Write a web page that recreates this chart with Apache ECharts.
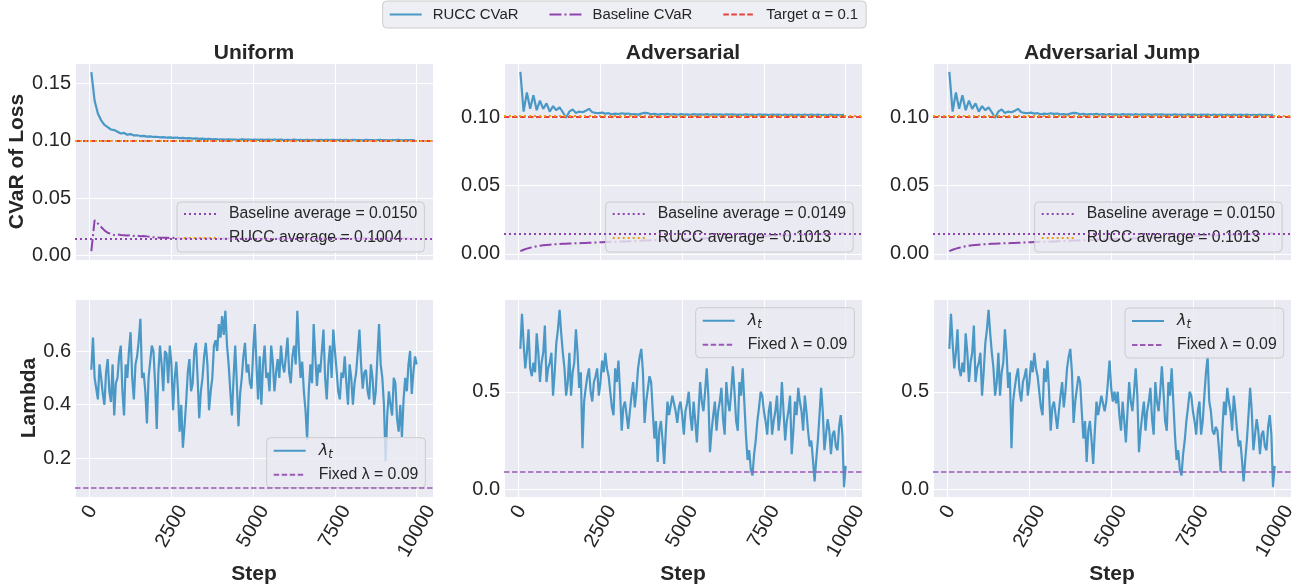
<!DOCTYPE html>
<html><head><meta charset="utf-8">
<script src="https://cdn.jsdelivr.net/npm/echarts@6/dist/echarts.min.js"></script>
<style>html,body{margin:0;padding:0;background:#fff}#c{width:1304px;height:586px}</style>
</head><body><div id="c"></div>
<script>
// ---------------- DATA ----------------
const titles = ['Uniform', 'Adversarial', 'Adversarial Jump'];
const stepsCvar = [50,150,250,350,450,550,650,750,850,950,1050,1150,1250,1350,1450,1550,1650,1750,1850,1950,
2050,2150,2250,2350,2450,2550,2650,2750,2850,2950,3050,3150,3250,3350,3450,3550,3650,3750,3850,3950,
4050,4150,4250,4350,4450,4550,4650,4750,4850,4950,5050,5150,5250,5350,5450,5550,5650,5750,5850,5950,
6050,6150,6250,6350,6450,6550,6650,6750,6850,6950,7050,7150,7250,7350,7450,7550,7650,7750,7850,7950,
8050,8150,8250,8350,8450,8550,8650,8750,8850,8950,9050,9150,9250,9350,9450,9550,9650,9750,9850,9950];

const stepsLambda = [50,100,150,200,250,300,350,400,450,500,550,600,650,700,750,800,850,900,950,1000,
1050,1100,1150,1200,1250,1300,1350,1400,1450,1500,1550,1600,1650,1700,1750,1800,1850,1900,1950,2000,
2050,2100,2150,2200,2250,2300,2350,2400,2450,2500,2550,2600,2650,2700,2750,2800,2850,2900,2950,3000,
3050,3100,3150,3200,3250,3300,3350,3400,3450,3500,3550,3600,3650,3700,3750,3800,3850,3900,3950,4000,
4050,4100,4150,4200,4250,4300,4350,4400,4450,4500,4550,4600,4650,4700,4750,4800,4850,4900,4950,5000,
5050,5100,5150,5200,5250,5300,5350,5400,5450,5500,5550,5600,5650,5700,5750,5800,5850,5900,5950,6000,
6050,6100,6150,6200,6250,6300,6350,6400,6450,6500,6550,6600,6650,6700,6750,6800,6850,6900,6950,7000,
7050,7100,7150,7200,7250,7300,7350,7400,7450,7500,7550,7600,7650,7700,7750,7800,7850,7900,7950,8000,
8050,8100,8150,8200,8250,8300,8350,8400,8450,8500,8550,8600,8650,8700,8750,8800,8850,8900,8950,9000,
9050,9100,9150,9200,9250,9300,9350,9400,9450,9500,9550,9600,9650,9700,9750,9800,9850,9900,9950,10000];

const cvarUniform = [0.160,0.135,0.124,0.118,0.114,0.112,0.110,0.1095,0.108,0.1065,
0.107,0.1055,0.106,0.1048,0.105,0.1043,0.1045,0.1038,0.104,0.1035,
0.1037,0.1032,0.1033,0.103,0.1032,0.1027,0.103,0.1025,0.1027,0.1022,
0.1025,0.102,0.1022,0.1018,0.102,0.1016,0.1018,0.1014,0.1016,0.1013,
0.1015,0.1012,0.1014,0.1011,0.1013,0.101,0.1014,0.1011,0.1012,0.101,
0.1013,0.1009,0.1012,0.101,0.1011,0.1009,0.1012,0.1009,0.1011,0.1008,
0.101,0.1008,0.1011,0.1008,0.101,0.1007,0.101,0.1008,0.1009,0.1007,
0.101,0.1007,0.1009,0.1008,0.101,0.1007,0.1009,0.1007,0.1009,0.1006,
0.1009,0.1007,0.1008,0.1006,0.1009,0.1007,0.1008,0.1006,0.1009,0.1007,
0.1008,0.1006,0.1008,0.1007,0.1009,0.1006,0.1008,0.1007,0.1008,0.1006];

const baseUniform = [0.004,0.031,0.028,0.025,0.022,0.020,0.019,0.018,0.0185,0.018,
0.0178,0.0175,0.0178,0.0172,0.0175,0.017,0.0172,0.0168,0.0165,0.016,
0.0158,0.0156,0.0155,0.0156,0.0154,0.0155,0.0153,0.0154,0.0152,0.0153,
0.0152,0.0151,0.0152,0.0151,0.0151,0.015,0.0151,0.015,0.0151,0.015,
0.015,0.0151,0.015,0.0149,0.015,0.0151,0.015,0.015,0.0149,0.015,
0.015,0.0151,0.015,0.0149,0.015,0.0151,0.015,0.015,0.0149,0.015,
0.015,0.0151,0.015,0.0149,0.015,0.0151,0.015,0.015,0.0149,0.015,
0.015,0.0151,0.015,0.0149,0.015,0.0151,0.015,0.015,0.0149,0.015,
0.015,0.0151,0.015,0.0149,0.015,0.0151,0.015,0.015,0.0149,0.015,
0.015,0.0151,0.015,0.0149,0.015,0.0151,0.015,0.015,0.0149,0.015];

const cvarAdv = [0.133,0.104,0.118,0.106,0.116,0.105,0.112,0.106,0.110,0.104,
0.108,0.105,0.107,0.1035,0.0995,0.104,0.1056,0.103,0.104,0.1035,
0.1045,0.106,0.1035,0.103,0.1028,0.1032,0.1025,0.1028,0.102,0.1025,
0.1022,0.1028,0.1023,0.1026,0.102,0.1022,0.1018,0.1025,0.103,0.1028,
0.102,0.1024,0.1018,0.1022,0.1019,0.1023,0.1018,0.1021,0.1017,0.1022,
0.1018,0.102,0.1016,0.1021,0.1018,0.102,0.1017,0.1021,0.1016,0.1019,
0.1017,0.102,0.1016,0.1019,0.1017,0.102,0.1016,0.1018,0.1016,0.1019,
0.1016,0.1018,0.1015,0.1019,0.1016,0.1018,0.1015,0.1018,0.1016,0.1018,
0.1015,0.1017,0.1015,0.1018,0.1015,0.1017,0.1015,0.1017,0.1014,0.1017,
0.1015,0.1017,0.1014,0.1016,0.1015,0.1017,0.1014,0.1016,0.1015,0.1016];

const baseAdv = [0.002,0.003,0.0038,0.0045,0.005,0.0055,0.0059,0.0062,0.0065,0.0067,
0.0069,0.0071,0.0072,0.0073,0.0074,0.0075,0.0076,0.0077,0.0078,0.0079,
0.008,0.0081,0.0082,0.0083,0.0084,0.0085,0.0086,0.0087,0.0088,0.0089,
0.0089,0.009,0.0091,0.0092,0.0093,0.0094,0.0095,0.0096,0.0097,0.0098,
0.0099,0.01,0.0101,0.0102,0.0102,0.0103,0.0104,0.0105,0.0106,0.0107,
0.0108,0.0109,0.0109,0.011,0.0111,0.0112,0.0113,0.0114,0.0115,0.0116,
0.0116,0.0117,0.0118,0.0119,0.012,0.0121,0.0122,0.0122,0.0123,0.0124,
0.0125,0.0126,0.0127,0.0128,0.0128,0.0129,0.013,0.0131,0.0132,0.0133,
0.0134,0.0135,0.0135,0.0136,0.0137,0.0138,0.0139,0.014,0.0141,0.0142,
0.0142,0.0143,0.0144,0.0145,0.0146,0.0147,0.0148,0.0149,0.015,0.0151];

// Adversarial Jump top panel reads identically to Adversarial
const cvarJump = cvarAdv;
const baseJump = baseAdv;

const lamUniform = [0.53,0.65,0.50,0.46,0.42,0.55,0.50,0.44,0.40,0.52,0.57,0.45,0.41,0.55,0.36,0.48,0.50,0.58,0.62,0.45,
0.36,0.55,0.50,0.60,0.67,0.50,0.42,0.55,0.58,0.64,0.72,0.50,0.52,0.45,0.33,0.50,0.56,0.62,0.60,0.48,
0.31,0.52,0.62,0.55,0.45,0.60,0.59,0.48,0.62,0.55,0.38,0.50,0.56,0.45,0.30,0.40,0.24,0.32,0.41,0.52,
0.57,0.45,0.48,0.60,0.63,0.50,0.35,0.45,0.50,0.58,0.63,0.55,0.38,0.45,0.50,0.62,0.64,0.60,0.70,0.65,
0.73,0.66,0.75,0.62,0.55,0.45,0.36,0.50,0.62,0.48,0.32,0.44,0.50,0.58,0.63,0.52,0.55,0.48,0.46,0.60,
0.70,0.55,0.42,0.58,0.40,0.55,0.62,0.50,0.52,0.45,0.62,0.56,0.45,0.52,0.57,0.50,0.62,0.55,0.52,0.58,
0.65,0.52,0.48,0.58,0.62,0.55,0.75,0.60,0.50,0.56,0.45,0.38,0.27,0.45,0.55,0.48,0.70,0.58,0.47,0.55,
0.52,0.60,0.68,0.50,0.42,0.55,0.62,0.50,0.68,0.60,0.53,0.45,0.42,0.52,0.50,0.58,0.48,0.40,0.55,0.50,
0.40,0.48,0.52,0.60,0.68,0.55,0.46,0.52,0.53,0.45,0.42,0.55,0.50,0.40,0.45,0.58,0.70,0.55,0.50,0.40,
0.19,0.36,0.45,0.40,0.36,0.50,0.48,0.35,0.30,0.40,0.28,0.42,0.50,0.45,0.55,0.60,0.44,0.52,0.58,0.55];

const lamAdv = [0.72,0.90,0.75,0.62,0.70,0.82,0.62,0.58,0.65,0.60,0.80,0.70,0.55,0.65,0.70,0.84,0.55,0.62,0.65,0.70,
0.48,0.60,0.75,0.82,0.92,0.80,0.70,0.62,0.48,0.55,0.70,0.48,0.60,0.65,0.82,0.70,0.52,0.60,0.21,0.45,
0.52,0.58,0.62,0.50,0.45,0.55,0.58,0.62,0.48,0.55,0.66,0.60,0.70,0.62,0.58,0.50,0.42,0.38,0.62,0.55,
0.66,0.50,0.30,0.42,0.45,0.38,0.31,0.40,0.48,0.55,0.42,0.50,0.62,0.68,0.72,0.60,0.34,0.45,0.45,0.58,
0.55,0.40,0.26,0.35,0.14,0.30,0.35,0.25,0.13,0.30,0.45,0.38,0.38,0.48,0.48,0.40,0.34,0.42,0.45,0.38,
0.28,0.40,0.44,0.50,0.38,0.30,0.45,0.35,0.24,0.40,0.55,0.45,0.40,0.50,0.62,0.48,0.19,0.30,0.38,0.45,
0.30,0.40,0.45,0.52,0.36,0.28,0.55,0.45,0.40,0.50,0.63,0.50,0.35,0.30,0.55,0.48,0.62,0.45,0.28,0.15,
0.20,0.10,0.07,0.18,0.25,0.35,0.42,0.50,0.48,0.40,0.35,0.28,0.40,0.45,0.28,0.35,0.40,0.48,0.30,0.38,
0.55,0.40,0.25,0.35,0.40,0.48,0.18,0.30,0.45,0.38,0.52,0.45,0.40,0.30,0.48,0.40,0.30,0.22,0.25,0.15,
0.04,0.15,0.25,0.38,0.52,0.40,0.20,0.28,0.36,0.30,0.18,0.28,0.30,0.22,0.20,0.32,0.38,0.28,0.01,0.12];

const lamJump = [0.72,0.90,0.75,0.62,0.70,0.82,0.62,0.58,0.65,0.60,0.80,0.70,0.55,0.65,0.70,0.84,0.55,0.62,0.65,0.70,
0.48,0.60,0.75,0.82,0.92,0.80,0.70,0.62,0.48,0.55,0.70,0.48,0.60,0.65,0.82,0.70,0.52,0.60,0.21,0.45,
0.52,0.58,0.62,0.50,0.45,0.55,0.58,0.62,0.48,0.55,0.66,0.60,0.70,0.62,0.58,0.50,0.42,0.38,0.62,0.55,
0.66,0.50,0.30,0.42,0.45,0.38,0.31,0.40,0.48,0.55,0.42,0.50,0.62,0.68,0.72,0.60,0.34,0.45,0.45,0.58,
0.55,0.40,0.26,0.35,0.14,0.30,0.35,0.25,0.13,0.30,0.45,0.38,0.38,0.48,0.48,0.40,0.45,0.55,0.66,0.52,
0.45,0.50,0.44,0.50,0.38,0.30,0.45,0.35,0.24,0.40,0.55,0.45,0.40,0.50,0.62,0.48,0.19,0.30,0.38,0.45,
0.30,0.40,0.45,0.52,0.36,0.28,0.55,0.45,0.40,0.50,0.63,0.50,0.35,0.30,0.55,0.48,0.62,0.45,0.28,0.15,
0.20,0.10,0.07,0.18,0.25,0.35,0.42,0.50,0.48,0.40,0.35,0.28,0.40,0.45,0.28,0.35,0.48,0.60,0.68,0.45,
0.40,0.30,0.28,0.32,0.30,0.20,0.09,0.30,0.45,0.38,0.52,0.45,0.40,0.30,0.48,0.40,0.30,0.22,0.25,0.15,
0.04,0.15,0.25,0.38,0.52,0.40,0.20,0.28,0.36,0.30,0.18,0.28,0.30,0.22,0.20,0.32,0.38,0.28,0.01,0.12];

const targetAlpha = 0.1;
const fixedLambda = 0.09;
const baselineAvg = [0.0150, 0.0149, 0.0150];
const ruccAvg = [0.1004, 0.1013, 0.1013];

const cvarSeries = [cvarUniform, cvarAdv, cvarJump];
const baseSeries = [baseUniform, baseAdv, baseJump];
const lamSeries = [lamUniform, lamAdv, lamJump];

// ---------------- STYLE / LAYOUT ----------------
const FONT = "'Liberation Sans', Arial, sans-serif";
const TXT = '#262626';
const BLUE = '#4a98c6', PURPLE = '#8e44ad', FIXP = '#9b59b6', RED = '#e8403a', ORANGE = '#f39c12';
const colLeft = [75, 504, 933];
const panelW = 358;
const topRow = {top: 63, height: 197};
const botRow = {top: 299, height: 198};
const xRange = {min: -450, max: 10500, step: 2500};
const cvarY = [{min: -0.0038, max: 0.168, step: 0.05}, {min: -0.0045, max: 0.1395, step: 0.05}, {min: -0.0045, max: 0.1395, step: 0.05}];
const lamY = [{min: 0.0565, max: 0.7935, step: 0.2}, {min: -0.04, max: 0.976, step: 0.5}, {min: -0.04, max: 0.976, step: 0.5}];
const DASH = [5.5, 2.5], DOT = [2, 3], DASHDOT = [12, 3, 2, 3];

const zip = (xs, ys) => xs.map((x, i) => [x, ys[i]]);

const grids = [], xAxes = [], yAxes = [], series = [], legends = [], titleList = [];
const nameStyle = {fontSize: 21, fontWeight: 'bold', color: TXT, fontFamily: FONT};

function xAxis(gi, labels) {
  return {
    type: 'value', gridIndex: gi, min: xRange.min, max: xRange.max,
    minInterval: xRange.step, maxInterval: xRange.step,
    axisLine: {show: false}, axisTick: {show: false},
    splitLine: {show: true, lineStyle: {color: '#ffffff', width: 1}},
    axisLabel: {
      show: labels, showMinLabel: false, showMaxLabel: false,
      rotate: 60, align: 'center', verticalAlign: 'middle', margin: 15,
      fontSize: 20, color: TXT, fontFamily: FONT,
      formatter: v => '{p' + String(v).length + '|' + v + '}',
      rich: {
        p1: {fontSize: 20, color: TXT, fontFamily: FONT},
        p4: {fontSize: 20, color: TXT, fontFamily: FONT, padding: [14.5, 25, 0, 0]},
        p5: {fontSize: 20, color: TXT, fontFamily: FONT, padding: [19.3, 33.4, 0, 0]}
      }
    },
    name: labels ? 'Step' : '', nameLocation: 'middle', nameGap: 54, nameTextStyle: nameStyle
  };
}
function yAxis(gi, r, dec, name, gap) {
  return {
    type: 'value', gridIndex: gi, min: r.min, max: r.max, minInterval: r.step, maxInterval: r.step,
    axisLine: {show: false}, axisTick: {show: false},
    splitLine: {show: true, lineStyle: {color: '#ffffff', width: 1}},
    axisLabel: {showMinLabel: false, showMaxLabel: false, margin: 4, fontSize: 20, color: TXT, fontFamily: FONT,
      formatter: v => v.toFixed(dec)},
    name: name, nameLocation: 'middle', nameGap: gap, nameTextStyle: nameStyle
  };
}
function hline(name, gi, value, color, width, type, z) {
  return {
    name: name, type: 'line', xAxisIndex: gi, yAxisIndex: gi, data: [], symbol: 'none', z: z,
    lineStyle: {color: color, width: width, type: type}, itemStyle: {color: color},
    markLine: {silent: true, symbol: 'none', precision: 6, label: {show: false}, animation: false,
      lineStyle: {color: color, width: width, type: type}, data: [{yAxis: value}]}
  };
}
const legendBox = {backgroundColor: 'rgba(234,234,242,0.8)', borderColor: '#cccccc', borderWidth: 1, borderRadius: 4,
  itemStyle: {color: 'rgba(0,0,0,0)', borderColor: 'rgba(0,0,0,0)', borderWidth: 0, opacity: 0}};

for (let i = 0; i < 3; i++) {
  const gT = i, gB = 3 + i;
  grids[gT] = {left: colLeft[i], top: topRow.top, width: panelW, height: topRow.height, backgroundColor: '#eaeaf2', show: true, borderWidth: 0, outerBoundsMode: 'none'};
  grids[gB] = {left: colLeft[i], top: botRow.top, width: panelW, height: botRow.height, backgroundColor: '#eaeaf2', show: true, borderWidth: 0, outerBoundsMode: 'none'};
  xAxes[gT] = xAxis(gT, false);
  xAxes[gB] = xAxis(gB, true);
  yAxes[gT] = yAxis(gT, cvarY[i], 2, i === 0 ? 'CVaR of Loss' : '', 36);
  yAxes[gB] = yAxis(gB, lamY[i], 1, i === 0 ? 'Lambda' : '', 28);

  const bName = 'Baseline average = ' + baselineAvg[i].toFixed(4);
  const rName = 'RUCC average = ' + ruccAvg[i].toFixed(4);
  series.push({name: 'RUCC CVaR', type: 'line', xAxisIndex: gT, yAxisIndex: gT, data: zip(stepsCvar, cvarSeries[i]),
    symbol: 'none', z: 2, lineStyle: {color: BLUE, width: 2.2}, itemStyle: {color: BLUE}});
  series.push({name: 'Baseline CVaR', type: 'line', xAxisIndex: gT, yAxisIndex: gT, data: zip(stepsCvar, baseSeries[i]),
    symbol: 'none', z: 3, lineStyle: {color: PURPLE, width: 2, type: DASHDOT}, itemStyle: {color: PURPLE}});
  series.push(hline('Target α = 0.1', gT, targetAlpha, RED, 2, DASH, 4));
  series.push(hline(bName, gT, baselineAvg[i], PURPLE, 2, DOT, 5));
  series.push(hline(rName, gT, ruccAvg[i], ORANGE, 2, DOT, 5));

  series.push({name: 'λ_t', type: 'line', xAxisIndex: gB, yAxisIndex: gB, data: zip(stepsLambda, lamSeries[i]),
    symbol: 'none', z: 2, lineStyle: {color: BLUE, width: 2.2}, itemStyle: {color: BLUE}});
  series.push(hline('Fixed λ = 0.09', gB, fixedLambda, FIXP, 1.5, DASH, 3));

  titleList.push({text: titles[i], left: colLeft[i] + panelW / 2, top: 43, textAlign: 'center', padding: 0,
    textStyle: {fontSize: 21, fontWeight: 'bold', color: TXT, fontFamily: FONT}});

  const topLegLeft = [177, 605.7, 1034.7][i];
  legends.push(Object.assign({
    data: [bName, rName], orient: 'vertical', left: topLegLeft, top: 202,
    itemWidth: 32, itemHeight: 14, itemGap: 8, padding: [4, 7, 6, 6],
    textStyle: {fontSize: 15.8, color: TXT, fontFamily: FONT, padding: [0, 0, 0, 8]}
  }, legendBox));
  const botLeg = [{left: 266.7, top: 437.7}, {left: 695.7, top: 307.7}, {left: 1125, top: 308}][i];
  legends.push(Object.assign({
    data: ['λ_t', 'Fixed λ = 0.09'], orient: 'vertical', left: botLeg.left, top: botLeg.top,
    itemWidth: 32, itemHeight: 14, itemGap: 6, padding: [5, 7, 5, 6],
    formatter: n => n === 'λ_t' ? '{l|λ}{s|t}' : n,
    textStyle: {fontSize: 15.8, color: TXT, fontFamily: FONT, padding: [0, 0, 0, 8],
      rich: {
        l: {fontSize: 16, fontStyle: 'italic', fontFamily: "'DejaVu Sans', sans-serif", color: TXT},
        s: {fontSize: 11.5, fontStyle: 'italic', fontFamily: "'DejaVu Sans', sans-serif", color: TXT, padding: [8, 0, 0, 0]}
      }}
  }, legendBox));
}

legends.unshift(Object.assign({
  data: ['RUCC CVaR', 'Baseline CVaR', 'Target α = 0.1'], orient: 'horizontal', left: 382.7, top: 1,
  itemWidth: 32, itemHeight: 14, itemGap: 30, padding: [6, 8, 6, 6],
  textStyle: {fontSize: 14.9, color: TXT, fontFamily: FONT, padding: [0, 0, 0, 6]}
}, legendBox));

const chart = echarts.init(document.getElementById('c'), null, {renderer: 'canvas'});
chart.setOption({
  animation: false,
  backgroundColor: '#ffffff',
  title: titleList,
  legend: legends,
  grid: grids,
  xAxis: xAxes,
  yAxis: yAxes,
  series: series
});
</script></body></html>
